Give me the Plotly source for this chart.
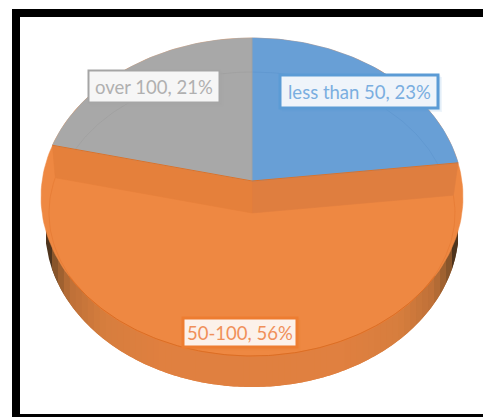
import numpy as np
import plotly.graph_objects as go

categories = ["less than 50", "50-100", "over 100"]
shares = [23, 56, 21]
blue, orange, grey = "#689FD6", "#EE8842", "#A8A8A8"

APEX_X, APEX_Y = 252, 181
SPREAD_X, SPREAD_Y = 205, 143
RIM = dict(cx=252, cy=197, rx=211, ry=159)
FACE = dict(cx=252, cy=213, rx=203, ry=143)
INNER = dict(cx=252, cy=213, rx=198, ry=141)
BASE = dict(cx=252, cy=228, rx=207, ry=159)
DROP = 32

fig = go.Figure()


def poly(xs, ys, fill, line=None, width=0.6):
    fig.add_trace(go.Scatter(x=list(xs), y=list(ys), mode="lines", fill="toself", fillcolor=fill,
                             line=dict(color=line or fill, width=width), hoverinfo="skip", showlegend=False))


def stroke(xs, ys, color, width=1):
    fig.add_trace(go.Scatter(x=list(xs), y=list(ys), mode="lines", line=dict(color=color, width=width),
                             hoverinfo="skip", showlegend=False))


def ell(e, t):
    t = np.asarray(t, dtype=float)
    return e["cx"] + e["rx"] * np.sin(t), e["cy"] - e["ry"] * np.cos(t)


def hit(e, theta, ay=APEX_Y):
    """Where the ray of a slice boundary leaves ellipse e (returned as ellipse parameter)."""
    dx, dy = np.sin(theta) * SPREAD_X, -np.cos(theta) * SPREAD_Y
    a = (dx / e["rx"]) ** 2 + (dy / e["ry"]) ** 2
    px, py = (APEX_X - e["cx"]) / e["rx"], (ay - e["cy"]) / e["ry"]
    b = 2 * (px * dx / e["rx"] + py * dy / e["ry"])
    c = px ** 2 + py ** 2 - 1
    s = (-b + np.sqrt(b * b - 4 * a * c)) / (2 * a)
    x, y = APEX_X + s * dx, ay + s * dy
    return np.arctan2((x - e["cx"]) / e["rx"], -(y - e["cy"]) / e["ry"]) % (2 * np.pi)


edges = 2 * np.pi * np.cumsum([0] + shares) / sum(shares)
a_blue_end, a_orange_end = edges[1], edges[2]


def wall_color(u):
    stops = [(0, (224, 128, 64)), (0.45, (224, 128, 64)), (0.72, (214, 126, 62)), (0.88, (190, 112, 56)),
             (0.95, (140, 88, 44)), (0.985, (70, 48, 28)), (1, (45, 34, 24))]
    xs = [s[0] for s in stops]
    return "rgb(%d,%d,%d)" % tuple(np.interp(u, xs, [s[1][i] for s in stops]) for i in range(3))


def low(e, x):
    v = np.clip((x - e["cx"]) / e["rx"], -1, 1)
    return e["cy"] + e["ry"] * np.sqrt(1 - v * v)


# side wall: overlapping strips painted from the left, so no seams show between them
xs_w = np.linspace(BASE["cx"] - BASE["rx"] + 1, BASE["cx"] + BASE["rx"] - 1, 70)
step = xs_w[1] - xs_w[0]
for x0 in xs_w[:-1]:
    x1 = min(x0 + 2 * step, xs_w[-1])
    sx = np.linspace(x0, x1, 5)
    ytop = [low(RIM, x) - 2 for x in sx]
    ybot = [low(BASE, x) for x in sx]
    c = wall_color(abs(x0 + step / 2 - 252) / 207)
    fig.add_trace(go.Scatter(x=[*sx, *sx[::-1], sx[0]], y=[*ytop, *ybot[::-1], ytop[0]], mode="none",
                             fill="toself", fillcolor=c, hoverinfo="skip", showlegend=False))

# whole disc: orange slice
t = np.linspace(0, 2 * np.pi, 240)
poly(*ell(RIM, t), orange, width=0.5)

# inner face of the orange slice
poly(*ell(FACE, t), orange)
ta, tb = hit(FACE, a_blue_end, APEX_Y + DROP), hit(FACE, a_orange_end, APEX_Y + DROP)
stroke(*ell(FACE, np.linspace(ta, tb, 160)), "#E57A33", 0.7)
stroke(*ell(RIM, np.linspace(np.pi - 1.05, np.pi + 1.05, 120)), "#D96C22", 0.9)

# dark bands under the two lifted slices
for a, col in ((a_blue_end, "#DF7E3F"), (a_orange_end, "#E5803B")):
    ux, uy = ell(RIM, [hit(RIM, a)])
    lx, ly = ell(FACE, [hit(FACE, a, APEX_Y + DROP)])
    poly([APEX_X, ux[0], lx[0], APEX_X, APEX_X], [APEX_Y, uy[0], ly[0], APEX_Y + DROP, APEX_Y], col)

# the two upper slices
for a0, a1, col in ((0, a_blue_end, blue), (a_orange_end, 2 * np.pi, grey)):
    start = hit(RIM, a0) if a0 else 0
    end = 2 * np.pi if a1 >= 2 * np.pi else hit(RIM, a1)
    ex, ey = ell(RIM, np.linspace(start, end, 80))
    poly([APEX_X, *ex, APEX_X], [APEX_Y, *ey, APEX_Y], col)
    start = hit(INNER, a0) if a0 else 0
    end = 2 * np.pi if a1 >= 2 * np.pi else hit(INNER, a1)
    ix, iy = ell(INNER, np.linspace(start, end, 60))
    stroke(ix, iy, "#5F97CF" if col == blue else "#A0A0A0", 0.8)

stroke([APEX_X, APEX_X], [APEX_Y, APEX_Y - SPREAD_Y], "#9C9C9C", 0.5)

# slice edge highlight
for a in (a_blue_end, a_orange_end):
    ux, uy = ell(RIM, [hit(RIM, a)])
    stroke([APEX_X, ux[0]], [APEX_Y, uy[0]], "#DD7228", 1)

label_boxes = [
    ("over 100, 21%", 88.5, 219.5, 70.5, 102.5, "#A5A5A5", "#B0B0B0", "#F6F6F6", 2),
    ("less than 50, 23%", 280, 438, 75, 108, "#5B9BD5", "#7AAEE0", "#EFF4FA", 3),
    ("50-100, 56%", 183, 297, 318, 347, "#ED7D31", "#F0905A", "#FCF1EA", 3),
]
shapes = [dict(type="rect", xref="x", yref="y", x0=16, y0=13, x1=510, y1=418,
               line=dict(color="#000000", width=8), fillcolor="rgba(0,0,0,0)", layer="above")]
annotations = []
for text, x0, x1, y0, y1, border, txt, bg, bw in label_boxes:
    for d, op in ((4, 0.10), (2.5, 0.14)):
        shapes.append(dict(type="rect", xref="x", yref="y", x0=x0 + d - 2, x1=x1 + d, y0=y0 + d - 2, y1=y1 + d,
                           line=dict(width=0), fillcolor=border, opacity=op, layer="above"))
    shapes.append(dict(type="rect", xref="x", yref="y", x0=x0, x1=x1, y0=y0, y1=y1,
                       line=dict(color=border, width=bw), fillcolor=bg, layer="above"))
    annotations.append(dict(x=(x0 + x1) / 2, y=(y0 + y1) / 2, xref="x", yref="y", text=text, showarrow=False,
                            font=dict(family="Lato", size=18.5, color=txt), xanchor="center", yanchor="middle"))

fig.update_layout(
    width=483, height=417, margin=dict(l=0, r=0, t=0, b=0), paper_bgcolor="white", plot_bgcolor="white",
    xaxis=dict(range=[0, 483], visible=False, fixedrange=True),
    yaxis=dict(range=[417, 0], visible=False, fixedrange=True),
    shapes=shapes, annotations=annotations, showlegend=False,
)
fig.write_html("out.html", post_script="document.body.style.margin='0';", config={"displayModeBar": False})
